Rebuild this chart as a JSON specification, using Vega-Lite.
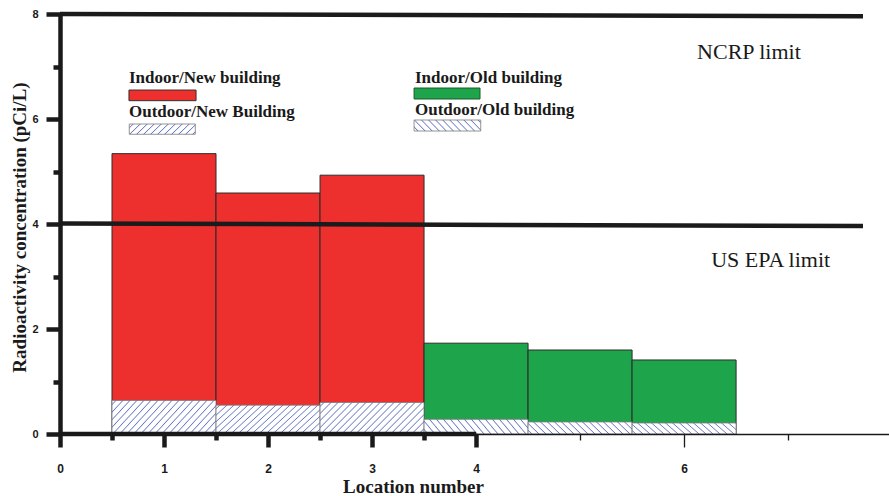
{
  "$schema": "https://vega.github.io/schema/vega-lite/v6.json",
  "width": 829,
  "height": 420,
  "autosize": "none",
  "padding": {"left": 60, "top": 14, "right": 0, "bottom": 62},
  "background": "white",
  "config": {"view": {"stroke": null}},
  "datasets": {
    "sites": [
      {"loc": 1, "building": "New", "indoor": 5.34, "outdoor": 0.64},
      {"loc": 2, "building": "New", "indoor": 4.59, "outdoor": 0.55},
      {"loc": 3, "building": "New", "indoor": 4.93, "outdoor": 0.60},
      {"loc": 4, "building": "Old", "indoor": 1.73, "outdoor": 0.28},
      {"loc": 5, "building": "Old", "indoor": 1.60, "outdoor": 0.23},
      {"loc": 6, "building": "Old", "indoor": 1.41, "outdoor": 0.21}
    ],
    "limits": [
      {"limit": "NCRP", "x": 0, "value": 8.0},
      {"limit": "NCRP", "x": 7.72, "value": 7.955},
      {"limit": "US EPA", "x": 0, "value": 4.01},
      {"limit": "US EPA", "x": 7.72, "value": 3.96}
    ]
  },
  "layer": [
    {
      "data": {"name": "sites"},
      "mark": {"type": "bar", "width": 104, "stroke": "#2b2b2b", "strokeWidth": 1},
      "encoding": {
        "x": {
          "field": "loc", "type": "quantitative",
          "scale": {"domain": [0, 7.97], "nice": false, "zero": false, "padding": 0},
          "axis": {
            "title": "Location number",
            "values": [0, 0.5, 1, 1.5, 2, 2.5, 3, 3.5, 4, 5, 6, 7],
            "labelExpr": "(datum.value % 1 === 0 && datum.value !== 5 && datum.value !== 7) ? format(datum.value, 'd') : ''",
            "labelFont": "Liberation Sans", "labelFontWeight": "bold", "labelFontSize": 12, "labelColor": "#1a1a1a",
            "labelPadding": 16, "labelFlush": false, "labelOverlap": false,
            "tickColor": "#1a1a1a",
            "tickSize": {"condition": {"test": "datum.value === 5 || datum.value === 7 || datum.value % 1 !== 0", "value": 6}, "value": 13},
            "tickWidth": {"condition": {"test": "datum.value > 4", "value": 1.3}, "value": 4.5},
            "domainColor": "#1a1a1a", "domainWidth": 1.5,
            "titleFont": "Liberation Serif", "titleFontWeight": "bold", "titleFontSize": 19, "titleColor": "#1a1a1a",
            "titleX": 353, "titleY": 58, "titleAlign": "center", "titleBaseline": "alphabetic",
            "grid": false, "zindex": 1
          }
        },
        "y": {
          "field": "indoor", "type": "quantitative",
          "scale": {"domain": [0, 8], "nice": false, "padding": 0},
          "axis": {
            "title": "Radioactivity concentration (pCi/L)",
            "values": [0, 1, 2, 3, 4, 5, 6, 7, 8],
            "labelExpr": "datum.value % 2 === 0 ? format(datum.value, 'd') : ''",
            "labelFont": "Liberation Sans", "labelFontWeight": "bold", "labelFontSize": 11, "labelColor": "#1a1a1a",
            "labelPadding": 8, "labelFlush": false, "labelOverlap": false,
            "tickColor": "#1a1a1a",
            "tickSize": {"condition": {"test": "datum.value % 2 === 1", "value": 7}, "value": 14},
            "tickWidth": 4.5,
            "domainColor": "#1a1a1a", "domainWidth": 4.5,
            "titleFont": "Liberation Serif", "titleFontWeight": "bold", "titleFontSize": 19, "titleColor": "#1a1a1a",
            "titleX": -35, "titleY": 213, "titleAlign": "center", "titleBaseline": "alphabetic", "titleAngle": 270,
            "grid": false, "zindex": 1
          }
        },
        "fill": {
          "field": "building", "type": "nominal",
          "scale": {"domain": ["New", "Old"], "range": ["#ed2f2e", "#1ea54b"]},
          "legend": null
        }
      }
    },
    {
      "data": {"name": "sites"},
      "mark": {"type": "bar", "width": 104, "stroke": "#7a7a7a", "strokeWidth": 0.8},
      "encoding": {
        "x": {"field": "loc", "type": "quantitative"},
        "y": {"field": "outdoor", "type": "quantitative"},
        "fill": {
          "condition": {
            "test": "datum.building === 'New'",
            "value": {"gradient": "linear", "x1": 0, "y1": 0, "x2": 1.235, "y2": 0.3705, "stops": [
              {"offset": 0, "color": "#ffffff"},
              {"offset": 0.02, "color": "#ffffff"}, {"offset": 0.028, "color": "#6a7ac4"}, {"offset": 0.036, "color": "#ffffff"},
              {"offset": 0.07, "color": "#ffffff"}, {"offset": 0.078, "color": "#6a7ac4"}, {"offset": 0.086, "color": "#ffffff"},
              {"offset": 0.12, "color": "#ffffff"}, {"offset": 0.128, "color": "#6a7ac4"}, {"offset": 0.136, "color": "#ffffff"},
              {"offset": 0.17, "color": "#ffffff"}, {"offset": 0.178, "color": "#6a7ac4"}, {"offset": 0.186, "color": "#ffffff"},
              {"offset": 0.22, "color": "#ffffff"}, {"offset": 0.228, "color": "#6a7ac4"}, {"offset": 0.236, "color": "#ffffff"},
              {"offset": 0.27, "color": "#ffffff"}, {"offset": 0.278, "color": "#6a7ac4"}, {"offset": 0.286, "color": "#ffffff"},
              {"offset": 0.32, "color": "#ffffff"}, {"offset": 0.328, "color": "#6a7ac4"}, {"offset": 0.336, "color": "#ffffff"},
              {"offset": 0.37, "color": "#ffffff"}, {"offset": 0.378, "color": "#6a7ac4"}, {"offset": 0.386, "color": "#ffffff"},
              {"offset": 0.42, "color": "#ffffff"}, {"offset": 0.428, "color": "#6a7ac4"}, {"offset": 0.436, "color": "#ffffff"},
              {"offset": 0.47, "color": "#ffffff"}, {"offset": 0.478, "color": "#6a7ac4"}, {"offset": 0.486, "color": "#ffffff"},
              {"offset": 0.52, "color": "#ffffff"}, {"offset": 0.528, "color": "#6a7ac4"}, {"offset": 0.536, "color": "#ffffff"},
              {"offset": 0.57, "color": "#ffffff"}, {"offset": 0.578, "color": "#6a7ac4"}, {"offset": 0.586, "color": "#ffffff"},
              {"offset": 0.62, "color": "#ffffff"}, {"offset": 0.628, "color": "#6a7ac4"}, {"offset": 0.636, "color": "#ffffff"},
              {"offset": 0.67, "color": "#ffffff"}, {"offset": 0.678, "color": "#6a7ac4"}, {"offset": 0.686, "color": "#ffffff"},
              {"offset": 0.72, "color": "#ffffff"}, {"offset": 0.728, "color": "#6a7ac4"}, {"offset": 0.736, "color": "#ffffff"},
              {"offset": 0.77, "color": "#ffffff"}, {"offset": 0.778, "color": "#6a7ac4"}, {"offset": 0.786, "color": "#ffffff"},
              {"offset": 0.82, "color": "#ffffff"}, {"offset": 0.828, "color": "#6a7ac4"}, {"offset": 0.836, "color": "#ffffff"},
              {"offset": 0.87, "color": "#ffffff"}, {"offset": 0.878, "color": "#6a7ac4"}, {"offset": 0.886, "color": "#ffffff"},
              {"offset": 0.92, "color": "#ffffff"}, {"offset": 0.928, "color": "#6a7ac4"}, {"offset": 0.936, "color": "#ffffff"},
              {"offset": 0.97, "color": "#ffffff"}, {"offset": 0.978, "color": "#6a7ac4"}, {"offset": 0.986, "color": "#ffffff"}
            ]}
          },
          "value": {"gradient": "linear", "x1": 0, "y1": 1, "x2": 1.327, "y2": 0.841, "stops": [
            {"offset": 0, "color": "#ffffff"},
            {"offset": 0.02, "color": "#ffffff"}, {"offset": 0.028, "color": "#6a7ac4"}, {"offset": 0.036, "color": "#ffffff"},
            {"offset": 0.07, "color": "#ffffff"}, {"offset": 0.078, "color": "#6a7ac4"}, {"offset": 0.086, "color": "#ffffff"},
            {"offset": 0.12, "color": "#ffffff"}, {"offset": 0.128, "color": "#6a7ac4"}, {"offset": 0.136, "color": "#ffffff"},
            {"offset": 0.17, "color": "#ffffff"}, {"offset": 0.178, "color": "#6a7ac4"}, {"offset": 0.186, "color": "#ffffff"},
            {"offset": 0.22, "color": "#ffffff"}, {"offset": 0.228, "color": "#6a7ac4"}, {"offset": 0.236, "color": "#ffffff"},
            {"offset": 0.27, "color": "#ffffff"}, {"offset": 0.278, "color": "#6a7ac4"}, {"offset": 0.286, "color": "#ffffff"},
            {"offset": 0.32, "color": "#ffffff"}, {"offset": 0.328, "color": "#6a7ac4"}, {"offset": 0.336, "color": "#ffffff"},
            {"offset": 0.37, "color": "#ffffff"}, {"offset": 0.378, "color": "#6a7ac4"}, {"offset": 0.386, "color": "#ffffff"},
            {"offset": 0.42, "color": "#ffffff"}, {"offset": 0.428, "color": "#6a7ac4"}, {"offset": 0.436, "color": "#ffffff"},
            {"offset": 0.47, "color": "#ffffff"}, {"offset": 0.478, "color": "#6a7ac4"}, {"offset": 0.486, "color": "#ffffff"},
            {"offset": 0.52, "color": "#ffffff"}, {"offset": 0.528, "color": "#6a7ac4"}, {"offset": 0.536, "color": "#ffffff"},
            {"offset": 0.57, "color": "#ffffff"}, {"offset": 0.578, "color": "#6a7ac4"}, {"offset": 0.586, "color": "#ffffff"},
            {"offset": 0.62, "color": "#ffffff"}, {"offset": 0.628, "color": "#6a7ac4"}, {"offset": 0.636, "color": "#ffffff"},
            {"offset": 0.67, "color": "#ffffff"}, {"offset": 0.678, "color": "#6a7ac4"}, {"offset": 0.686, "color": "#ffffff"},
            {"offset": 0.72, "color": "#ffffff"}, {"offset": 0.728, "color": "#6a7ac4"}, {"offset": 0.736, "color": "#ffffff"},
            {"offset": 0.77, "color": "#ffffff"}, {"offset": 0.778, "color": "#6a7ac4"}, {"offset": 0.786, "color": "#ffffff"},
            {"offset": 0.82, "color": "#ffffff"}, {"offset": 0.828, "color": "#6a7ac4"}, {"offset": 0.836, "color": "#ffffff"},
            {"offset": 0.87, "color": "#ffffff"}, {"offset": 0.878, "color": "#6a7ac4"}, {"offset": 0.886, "color": "#ffffff"},
            {"offset": 0.92, "color": "#ffffff"}, {"offset": 0.928, "color": "#6a7ac4"}, {"offset": 0.936, "color": "#ffffff"},
            {"offset": 0.97, "color": "#ffffff"}, {"offset": 0.978, "color": "#6a7ac4"}, {"offset": 0.986, "color": "#ffffff"}
          ]}
        }
      }
    },
    {
      "data": {"name": "limits"},
      "mark": {"type": "line", "stroke": "#1b1b1b", "strokeWidth": 4.5, "strokeCap": "butt"},
      "encoding": {
        "x": {"field": "x", "type": "quantitative"},
        "y": {"field": "value", "type": "quantitative"},
        "detail": {"field": "limit", "type": "nominal"}
      }
    },
    {
      "data": {"values": [{}]},
      "mark": {"type": "rule", "stroke": "#1a1a1a", "strokeWidth": 4.5},
      "encoding": {
        "x": {"datum": 0, "type": "quantitative"},
        "x2": {"datum": 4},
        "y": {"datum": 0, "type": "quantitative"}
      }
    },
    {
      "data": {"values": [{}]},
      "mark": {"type": "rect", "fill": "#ed2f2e", "stroke": "#333333", "strokeWidth": 1},
      "encoding": {
        "x": {"datum": 0.663, "type": "quantitative"}, "x2": {"datum": 1.308},
        "y": {"datum": 6.552, "type": "quantitative"}, "y2": {"datum": 6.349}
      }
    },
    {
      "data": {"values": [{}]},
      "mark": {"type": "rect", "fill": "#1ea54b", "stroke": "#1a5a2a", "strokeWidth": 1},
      "encoding": {
        "x": {"datum": 3.404, "type": "quantitative"}, "x2": {"datum": 4.038},
        "y": {"datum": 6.590, "type": "quantitative"}, "y2": {"datum": 6.381}
      }
    },
    {
      "data": {"values": [{}]},
      "mark": {"type": "rect", "stroke": "#7a7a7a", "strokeWidth": 0.8,
        "fill": {"gradient": "linear", "x1": 0, "y1": 0, "x2": 2.068, "y2": 0.331, "stops": [
          {"offset": 0, "color": "#ffffff"},
          {"offset": 0.02, "color": "#ffffff"}, {"offset": 0.028, "color": "#6a7ac4"}, {"offset": 0.036, "color": "#ffffff"},
          {"offset": 0.07, "color": "#ffffff"}, {"offset": 0.078, "color": "#6a7ac4"}, {"offset": 0.086, "color": "#ffffff"},
          {"offset": 0.12, "color": "#ffffff"}, {"offset": 0.128, "color": "#6a7ac4"}, {"offset": 0.136, "color": "#ffffff"},
          {"offset": 0.17, "color": "#ffffff"}, {"offset": 0.178, "color": "#6a7ac4"}, {"offset": 0.186, "color": "#ffffff"},
          {"offset": 0.22, "color": "#ffffff"}, {"offset": 0.228, "color": "#6a7ac4"}, {"offset": 0.236, "color": "#ffffff"},
          {"offset": 0.27, "color": "#ffffff"}, {"offset": 0.278, "color": "#6a7ac4"}, {"offset": 0.286, "color": "#ffffff"},
          {"offset": 0.32, "color": "#ffffff"}, {"offset": 0.328, "color": "#6a7ac4"}, {"offset": 0.336, "color": "#ffffff"},
          {"offset": 0.37, "color": "#ffffff"}, {"offset": 0.378, "color": "#6a7ac4"}, {"offset": 0.386, "color": "#ffffff"},
          {"offset": 0.42, "color": "#ffffff"}, {"offset": 0.428, "color": "#6a7ac4"}, {"offset": 0.436, "color": "#ffffff"},
          {"offset": 0.47, "color": "#ffffff"}, {"offset": 0.478, "color": "#6a7ac4"}, {"offset": 0.486, "color": "#ffffff"},
          {"offset": 0.52, "color": "#ffffff"}, {"offset": 0.528, "color": "#6a7ac4"}, {"offset": 0.536, "color": "#ffffff"},
          {"offset": 0.57, "color": "#ffffff"}, {"offset": 0.578, "color": "#6a7ac4"}, {"offset": 0.586, "color": "#ffffff"}
        ]}},
      "encoding": {
        "x": {"datum": 0.666, "type": "quantitative"}, "x2": {"datum": 1.301},
        "y": {"datum": 5.905, "type": "quantitative"}, "y2": {"datum": 5.709}
      }
    },
    {
      "data": {"values": [{}]},
      "mark": {"type": "rect", "stroke": "#7a7a7a", "strokeWidth": 0.8,
        "fill": {"gradient": "linear", "x1": 0, "y1": 1, "x2": 2.068, "y2": 0.669, "stops": [
          {"offset": 0, "color": "#ffffff"},
          {"offset": 0.02, "color": "#ffffff"}, {"offset": 0.028, "color": "#6a7ac4"}, {"offset": 0.036, "color": "#ffffff"},
          {"offset": 0.07, "color": "#ffffff"}, {"offset": 0.078, "color": "#6a7ac4"}, {"offset": 0.086, "color": "#ffffff"},
          {"offset": 0.12, "color": "#ffffff"}, {"offset": 0.128, "color": "#6a7ac4"}, {"offset": 0.136, "color": "#ffffff"},
          {"offset": 0.17, "color": "#ffffff"}, {"offset": 0.178, "color": "#6a7ac4"}, {"offset": 0.186, "color": "#ffffff"},
          {"offset": 0.22, "color": "#ffffff"}, {"offset": 0.228, "color": "#6a7ac4"}, {"offset": 0.236, "color": "#ffffff"},
          {"offset": 0.27, "color": "#ffffff"}, {"offset": 0.278, "color": "#6a7ac4"}, {"offset": 0.286, "color": "#ffffff"},
          {"offset": 0.32, "color": "#ffffff"}, {"offset": 0.328, "color": "#6a7ac4"}, {"offset": 0.336, "color": "#ffffff"},
          {"offset": 0.37, "color": "#ffffff"}, {"offset": 0.378, "color": "#6a7ac4"}, {"offset": 0.386, "color": "#ffffff"},
          {"offset": 0.42, "color": "#ffffff"}, {"offset": 0.428, "color": "#6a7ac4"}, {"offset": 0.436, "color": "#ffffff"},
          {"offset": 0.47, "color": "#ffffff"}, {"offset": 0.478, "color": "#6a7ac4"}, {"offset": 0.486, "color": "#ffffff"},
          {"offset": 0.52, "color": "#ffffff"}, {"offset": 0.528, "color": "#6a7ac4"}, {"offset": 0.536, "color": "#ffffff"},
          {"offset": 0.57, "color": "#ffffff"}, {"offset": 0.578, "color": "#6a7ac4"}, {"offset": 0.586, "color": "#ffffff"}
        ]}},
      "encoding": {
        "x": {"datum": 3.404, "type": "quantitative"}, "x2": {"datum": 4.045},
        "y": {"datum": 5.981, "type": "quantitative"}, "y2": {"datum": 5.771}
      }
    },
    {
      "data": {"values": [{}]},
      "mark": {"type": "text", "text": "Indoor/New building", "font": "Liberation Serif", "fontWeight": "bold", "fontSize": 17, "align": "left", "baseline": "alphabetic", "color": "#1a1a1a"},
      "encoding": {"x": {"datum": 0.663, "type": "quantitative"}, "y": {"datum": 6.68, "type": "quantitative"}}
    },
    {
      "data": {"values": [{}]},
      "mark": {"type": "text", "text": "Outdoor/New Building", "font": "Liberation Serif", "fontWeight": "bold", "fontSize": 17, "align": "left", "baseline": "alphabetic", "color": "#1a1a1a"},
      "encoding": {"x": {"datum": 0.663, "type": "quantitative"}, "y": {"datum": 6.032, "type": "quantitative"}}
    },
    {
      "data": {"values": [{}]},
      "mark": {"type": "text", "text": "Indoor/Old building", "font": "Liberation Serif", "fontWeight": "bold", "fontSize": 17, "align": "left", "baseline": "alphabetic", "color": "#1a1a1a"},
      "encoding": {"x": {"datum": 3.413, "type": "quantitative"}, "y": {"datum": 6.69, "type": "quantitative"}}
    },
    {
      "data": {"values": [{}]},
      "mark": {"type": "text", "text": "Outdoor/Old building", "font": "Liberation Serif", "fontWeight": "bold", "fontSize": 17, "align": "left", "baseline": "alphabetic", "color": "#1a1a1a"},
      "encoding": {"x": {"datum": 3.413, "type": "quantitative"}, "y": {"datum": 6.076, "type": "quantitative"}}
    },
    {
      "data": {"values": [{}]},
      "mark": {"type": "text", "text": "NCRP limit", "font": "Liberation Serif", "fontSize": 22, "align": "left", "baseline": "alphabetic", "color": "#1a1a1a"},
      "encoding": {"x": {"datum": 6.125, "type": "quantitative"}, "y": {"datum": 7.143, "type": "quantitative"}}
    },
    {
      "data": {"values": [{}]},
      "mark": {"type": "text", "text": "US EPA limit", "font": "Liberation Serif", "fontSize": 22, "align": "left", "baseline": "alphabetic", "color": "#1a1a1a"},
      "encoding": {"x": {"datum": 6.26, "type": "quantitative"}, "y": {"datum": 3.187, "type": "quantitative"}}
    }
  ]
}
